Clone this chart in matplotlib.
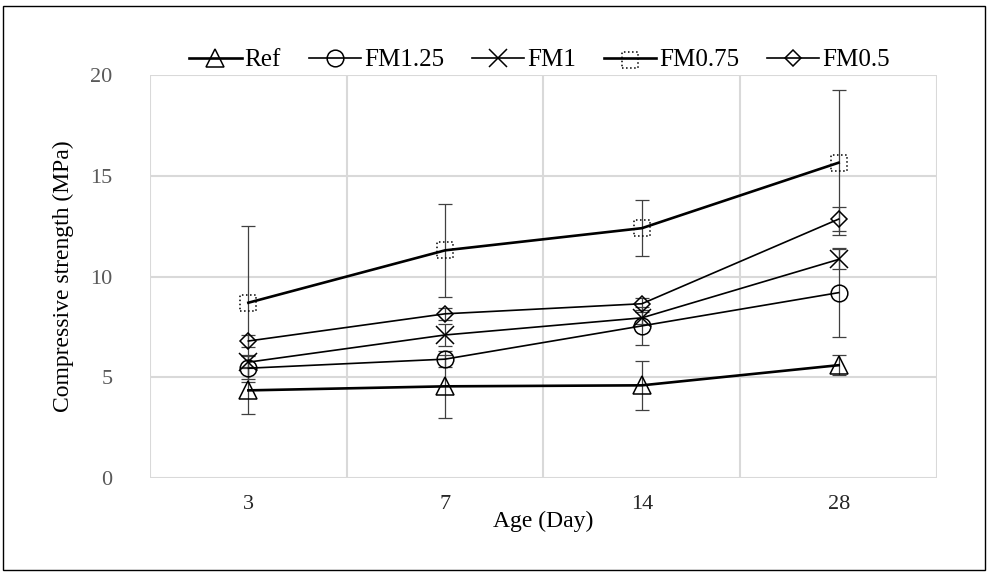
#!/usr/bin/env python3
'''Compressive strength vs age, with error bars'''

import matplotlib
matplotlib.use('Agg')
import matplotlib.pyplot as plt
from matplotlib.patches import Rectangle
from matplotlib.legend_handler import HandlerTuple

days = ['3', '7', '14', '28']
series = ['Ref', 'FM1.25', 'FM1', 'FM0.75', 'FM0.5']

ref = [4.35, 4.55, 4.6, 5.6]
fm125 = [5.45, 5.9, 7.55, 9.2]
fm1 = [5.75, 7.1, 7.95, 10.85]
fm075 = [8.7, 11.3, 12.4, 15.65]
fm05 = [6.8, 8.15, 8.65, 12.85]

ref_err = [1.15, 1.55, 1.2, 0.5]
fm125_err = [0.67, 0.4, 0.95, 2.2]
fm1_err = [0.3, 0.55, 0.3, 0.5]
fm075_err = [3.8, 2.3, 1.4, 3.6]
fm05_err = [0.3, 0.3, 0.3, 0.6]

plt.rcParams['font.family'] = ['Liberation Serif', 'DejaVu Serif']

fig = plt.figure(figsize=(9.88, 5.72), dpi=100)
ax = fig.add_axes([0.1518, 0.1643, 0.7966, 0.7045])

x = list(range(1, len(days) + 1))
ecol = '#404040'

styles = [
    (ref, ref_err, '^', 13, 1.9),
    (fm125, fm125_err, 'o', 12, 1.2),
    (fm1, fm1_err, 'x', 13, 1.2),
    (fm075, fm075_err, None, 0, 1.9),
    (fm05, fm05_err, 'D', 8.5, 1.2),
]

handles = []
for (vals, err, mk, ms, lw), name in zip(styles, series):
    ax.errorbar(x, vals, yerr=err, fmt='none', ecolor=ecol, elinewidth=0.9,
                capsize=5, capthick=0.9, zorder=3)
    if mk is None:
        line, = ax.plot(x, vals, color='black', lw=lw, zorder=4)
        sc = ax.scatter(x, vals, marker='s', s=135, facecolors='none',
                        edgecolors='black', linewidths=1.1, linestyles=':',
                        zorder=5)
        handles.append((line, sc))
    else:
        line, = ax.plot(x, vals, color='black', lw=lw, marker=mk, ms=ms,
                        mfc='none', mec='black', mew=1.1, zorder=4)
        handles.append(line)

ax.set_xlim(0.5, len(days) + 0.5)
ax.set_ylim(0, 20)
ax.set_yticks([0, 5, 10, 15, 20])
ax.set_xticks(x)
ax.set_xticklabels(days)
ax.set_xticks([i + 0.5 for i in range(len(days) + 1)], minor=True)
ax.grid(True, which='major', axis='y', color='#d9d9d9', lw=1.5)
ax.grid(True, which='minor', axis='x', color='#d9d9d9', lw=1.5)
ax.set_axisbelow(True)
for sp in ax.spines.values():
    sp.set_visible(False)
ax.tick_params(axis='both', which='both', length=0)
ax.tick_params(axis='y', labelsize=16, labelcolor='#595959', pad=27)
ax.tick_params(axis='x', labelsize=16, labelcolor='#262626', pad=12)

ax.set_ylabel('Compressive strength (MPa)', fontsize=17, labelpad=12)
ax.set_xlabel('Age (Day)', fontsize=17, labelpad=-2)

fig.legend(handles, series, loc='center', bbox_to_anchor=(0.546, 0.895),
           ncol=5, frameon=False, fontsize=18, handlelength=2.1,
           columnspacing=1.1, handletextpad=0.12,
           handler_map={tuple: HandlerTuple(ndivide=1)})

fig.patches.append(Rectangle((0.003, 0.004), 0.994, 0.986,
                             transform=fig.transFigure, fill=False,
                             edgecolor='black', lw=1.0))

plt.savefig('out.png', dpi=100)
